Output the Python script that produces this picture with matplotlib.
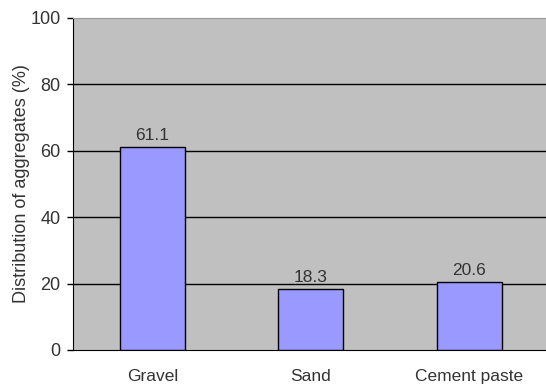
import matplotlib.pyplot as plt
import numpy as np

# data
categories = ["Gravel", "Sand", "Cement paste"]
values = [61.1, 18.3, 20.6]
yticks = [0, 20, 40, 60, 80, 100]

plt.rcParams['font.family'] = ['Liberation Sans', 'DejaVu Sans']

fig = plt.figure(figsize=(5.46, 3.85), dpi=100)
ax = fig.add_axes([73 / 546, 35 / 385, 475.5 / 546, 332 / 385])
ax.set_facecolor('#C0C0C0')

x = np.arange(len(categories))
bars = ax.bar(x, values, width=0.41, color='#9999FF', edgecolor='black',
              linewidth=1, zorder=3)

# gridlines
for t in yticks[1:-1]:
    ax.axhline(t, color='black', linewidth=1, zorder=1)

for b, v in zip(bars, values):
    ax.text(b.get_x() + b.get_width() / 2, v + 1.2, f"{v:.1f}",
            ha='center', va='bottom', fontsize=12.5, color='#333333')

ax.set_xlim(-0.5, 2.5)
ax.set_ylim(0, 100)
ax.set_yticks(yticks)
ax.set_xticks(x)
ax.set_xticklabels(categories)
ax.tick_params(axis='x', length=0, pad=14, labelsize=12.5, labelcolor='#333333')
ax.tick_params(axis='y', length=4, width=1, pad=5, labelsize=13,
               labelcolor='#333333', direction='out')
ax.set_ylabel("Distribution of aggregates (%)", fontsize=13, color='#333333',
              labelpad=0.5)

ax.spines['left'].set_color('black')
ax.spines['bottom'].set_color('black')
ax.spines['top'].set_color('#999999')
ax.spines['right'].set_visible(False)

fig.savefig("out.png", dpi=100)
